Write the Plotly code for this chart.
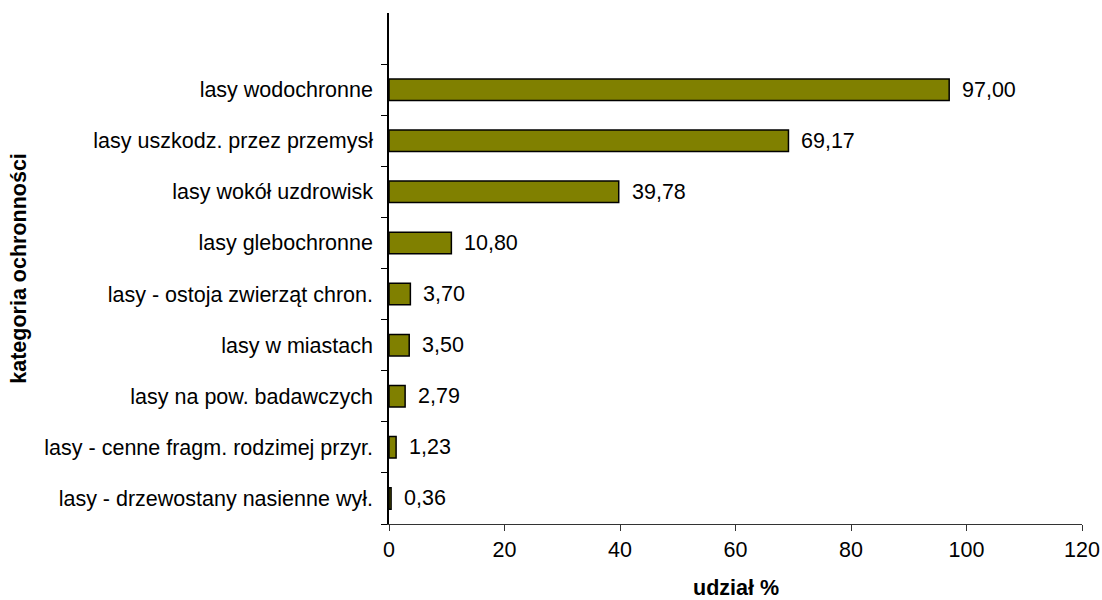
import plotly.graph_objects as go

categories = [
    "lasy - drzewostany nasienne wył.",
    "lasy - cenne fragm. rodzimej przyr.",
    "lasy na pow. badawczych",
    "lasy w miastach",
    "lasy - ostoja zwierząt chron.",
    "lasy glebochronne",
    "lasy wokół uzdrowisk",
    "lasy uszkodz. przez przemysł",
    "lasy wodochronne",
]
values = [0.36, 1.23, 2.79, 3.50, 3.70, 10.80, 39.78, 69.17, 97.00]
x_ticks = [0, 20, 40, 60, 80, 100, 120]

FONT = "Liberation Sans"
FS = 21.5

fig = go.Figure(go.Bar(
    y=categories, x=values, orientation="h",
    marker=dict(color="#808000", line=dict(color="black", width=1.5)),
    width=0.42,
))

for c, v in zip(categories, values):
    fig.add_annotation(
        x=v, y=c, xref="x", yref="y", text=f"{v:.2f}".replace(".", ","),
        showarrow=False, xanchor="left", yanchor="middle", xshift=11,
        font=dict(family=FONT, size=FS, color="black"),
    )

fig.add_annotation(
    x=0.5, y=-0.125, xref="paper", yref="paper", yanchor="middle",
    text="<b>udział %</b>", showarrow=False,
    font=dict(family=FONT, size=FS, color="black"),
)
fig.add_annotation(
    x=-0.535, y=0.5, xref="paper", yref="paper", xanchor="center",
    text="<b>kategoria ochronności</b>", showarrow=False, textangle=-90,
    font=dict(family=FONT, size=FS, color="black"),
)

fig.update_layout(
    width=1102, height=600,
    margin=dict(l=389, r=20, t=13, b=76),
    plot_bgcolor="white", paper_bgcolor="white",
    font=dict(family=FONT, size=FS, color="black"),
    showlegend=False,
)
fig.update_xaxes(
    range=[0, 120], tickvals=x_ticks, showgrid=False, zeroline=False,
    showline=True, linecolor="#333", linewidth=1,
    ticks="outside", ticklen=6, tickcolor="#333", automargin=False,
)
fig.update_yaxes(
    type="category", categoryorder="array", categoryarray=categories,
    range=[-0.5, 9.5], tickson="boundaries",
    showgrid=False, zeroline=False,
    showline=True, linecolor="black", linewidth=1.5,
    ticks="outside", ticklen=6, tickcolor="black",
    ticklabelstandoff=10, automargin=False,
)

fig.write_html("out.html", config={"displayModeBar": False},
               post_script="document.body.style.margin='0';")
